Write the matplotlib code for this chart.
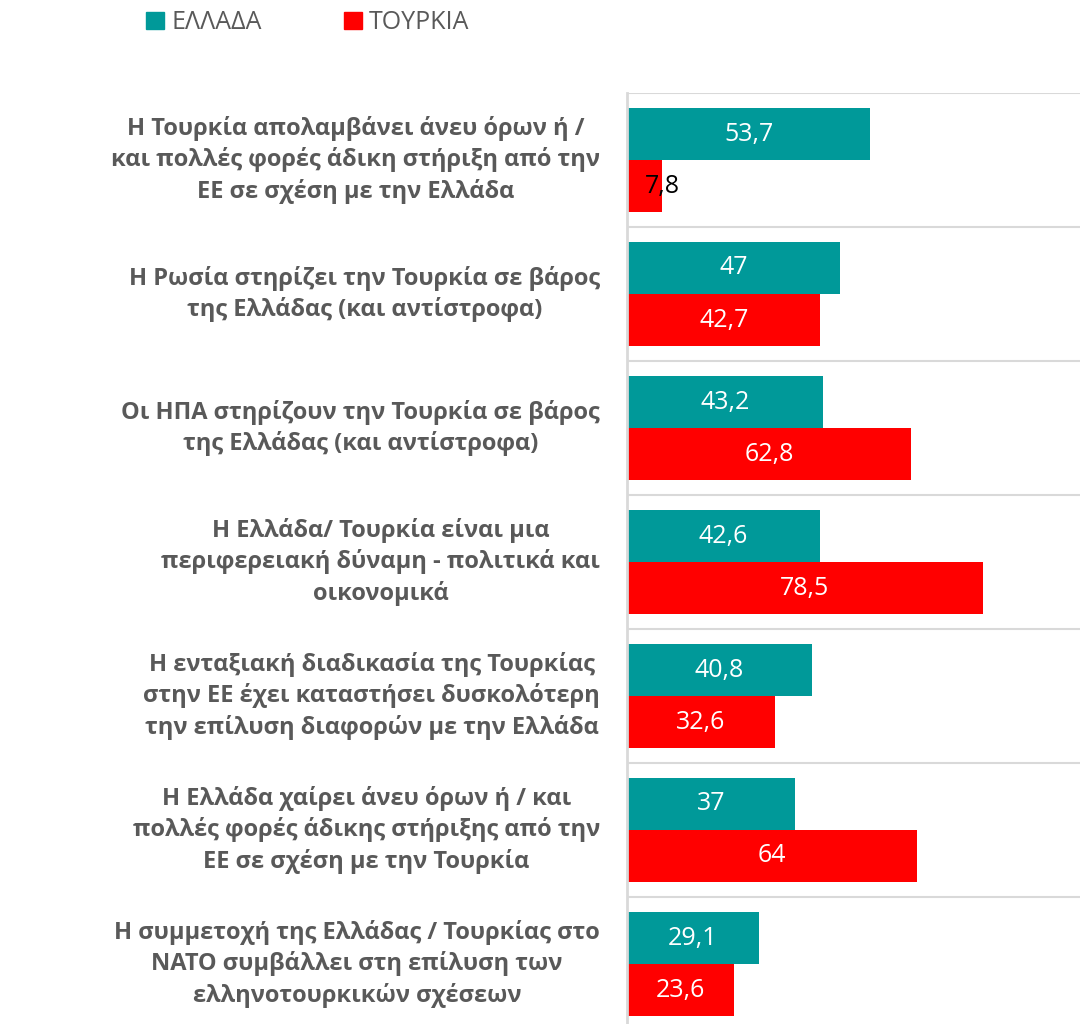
import matplotlib.pyplot as plt
from matplotlib.patches import Patch
import numpy as np

plt.rcParams['font.family'] = ['Open Sans', 'DejaVu Sans']

# data
categories = [
    "Η Τουρκία απολαμβάνει άνευ όρων ή /\nκαι πολλές φορές άδικη στήριξη από την\nΕΕ σε σχέση με την Ελλάδα",
    "Η Ρωσία στηρίζει την Τουρκία σε βάρος\nτης Ελλάδας (και αντίστροφα)",
    "Οι ΗΠΑ στηρίζουν την Τουρκία σε βάρος\nτης Ελλάδας (και αντίστροφα)",
    "Η Ελλάδα/ Τουρκία είναι μια\nπεριφερειακή δύναμη - πολιτικά και\nοικονομικά",
    "Η ενταξιακή διαδικασία της Τουρκίας\nστην ΕΕ έχει καταστήσει δυσκολότερη\nτην επίλυση διαφορών με την Ελλάδα",
    "Η Ελλάδα χαίρει άνευ όρων ή / και\nπολλές φορές άδικης στήριξης από την\nΕΕ σε σχέση με την Τουρκία",
    "Η συμμετοχή της Ελλάδας / Τουρκίας στο\nΝΑΤΟ συμβάλλει στη επίλυση των\nελληνοτουρκικών σχέσεων",
]
ellada = [53.7, 47, 43.2, 42.6, 40.8, 37, 29.1]
tourkia = [7.8, 42.7, 62.8, 78.5, 32.6, 64, 23.6]
series_names = ["ΕΛΛΑΔΑ", "ΤΟΥΡΚΙΑ"]

teal = '#009999'
red = '#ff0000'
gray = '#595959'
grid = '#d9d9d9'

fig = plt.figure(figsize=(10.8, 10.24), dpi=100)
# axes: x from 627px to right edge, y from 93px, groups of 134px
ax = fig.add_axes([627/1080, 1 - 1031/1024, 1 - 627/1080, 938/1024])

n = len(categories)
y = np.arange(n)
h = 52/134
off1 = 15/134 + h/2
off2 = 15/134 + h + h/2

ax.barh(y + off1, ellada, height=h, color=teal)
ax.barh(y + off2, tourkia, height=h, color=red)

ax.set_xlim(0, 100)
ax.set_ylim(n, 0)

for i in range(n + 1):
    ax.axhline(i, color=grid, lw=1.5, zorder=0)

def fmt(v):
    return ('%g' % v).replace('.', ',')

for i in range(n):
    for v, off in ((ellada[i], off1), (tourkia[i], off2)):
        if v < 10:
            ax.text(v, i + off, fmt(v), ha='center', va='center', color='black', fontsize=18)
        else:
            ax.text(v/2, i + off, fmt(v), ha='center', va='center', color='white', fontsize=18)
    ax.text(-27/4.53, i + 0.5, categories[i], ha='right', va='center',
            multialignment='center', color=gray, fontsize=17, fontweight='bold',
            linespacing=1.36, clip_on=False)

ax.set_xticks([])
ax.set_yticks([])
for s in ['top', 'right', 'bottom']:
    ax.spines[s].set_visible(False)
ax.spines['left'].set_color(grid)
ax.spines['left'].set_linewidth(2)

handles = [Patch(color=teal), Patch(color=red)]
fig.legend(handles, series_names, loc='center', bbox_to_anchor=(0.285, 0.978), ncol=2,
           frameon=False, fontsize=18, labelcolor=gray, handlelength=0.7, handleheight=0.7,
           handletextpad=0.3, columnspacing=3.3)

fig.savefig('out.png', dpi=100)
